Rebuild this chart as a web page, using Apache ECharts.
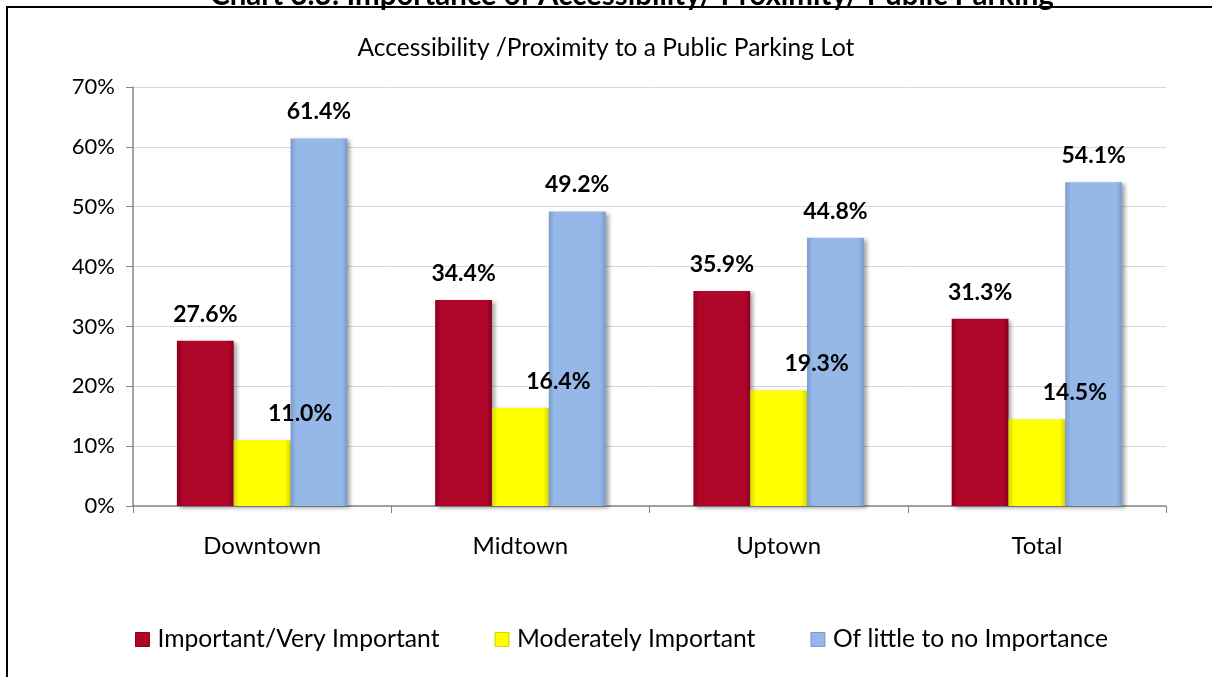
<!DOCTYPE html>
<html><head><meta charset="utf-8">
<script src="https://cdn.jsdelivr.net/npm/echarts@6/dist/echarts.min.js"></script>
<style>html,body{margin:0;padding:0;background:#fff}#c{width:1212px;height:677px}</style>
</head><body><div id="c"></div>
<script>
const categories = ['Downtown', 'Midtown', 'Uptown', 'Total'];
const important = [27.6, 34.4, 35.9, 31.3];
const moderate = [11.0, 16.4, 19.3, 14.5];
const little = [61.4, 49.2, 44.8, 54.1];
const seriesNames = ['Important/Very Important', 'Moderately Important', 'Of little to no Importance'];
const yTicks = [0, 10, 20, 30, 40, 50, 60, 70];
const chartTitle = 'Chart 3.3: Importance of Accessibility/ Proximity/ Public Parking';
const subTitle = 'Accessibility /Proximity to a Public Parking Lot';

const FONT = 'Lato, "Open Sans", sans-serif';
function bevel(mid, edge) {
  return { type: 'linear', x: 0, y: 0, x2: 1, y2: 0, colorStops: [
    { offset: 0, color: edge }, { offset: 0.1, color: mid }, { offset: 0.9, color: mid }, { offset: 1, color: edge }] };
}
const colors = [
  { mid: '#B0062A', edge: '#8A0020' },
  { mid: '#FFFF00', edge: '#D6D600' },
  { mid: '#95B8E8', edge: '#7A9CCB' }
];
function mkSeries(name, data, c, offsetX) {
  return {
    name, type: 'bar', data,
    barCategoryGap: '34%', barGap: '0%',
    itemStyle: { color: bevel(c.mid, c.edge), shadowColor: 'rgba(0,0,0,0.35)', shadowBlur: 4, shadowOffsetX: 3, shadowOffsetY: 2 },
    label: { show: true, position: 'top', distance: 15, offset: [offsetX, 0], formatter: p => p.value.toFixed(1) + '%',
      fontFamily: FONT, fontWeight: 'bold', fontSize: 23, color: '#000' }
  };
}
const chart = echarts.init(document.getElementById('c'));
chart.setOption({
  animation: false,
  textStyle: { fontFamily: FONT },
  grid: { left: 133, right: 46, top: 87, bottom: 171 },
  title: { text: subTitle, left: 'center', top: 31, textStyle: { fontFamily: FONT, fontSize: 24.5, fontWeight: 'normal', color: '#000' } },
  legend: {
    bottom: 20, left: 130, itemWidth: 14, itemHeight: 14, itemGap: 55,
    icon: 'rect', textStyle: { fontFamily: FONT, fontSize: 24.7, color: '#000', padding: [0, 0, 0, 3] },
    data: seriesNames.map((n, i) => ({ name: n, itemStyle: { color: bevel(colors[i].mid, colors[i].edge), borderColor: colors[i].edge, borderWidth: 1 } }))
  },
  xAxis: {
    type: 'category', data: categories,
    axisLine: { lineStyle: { color: '#868686', width: 1.5 } },
    axisTick: { show: true, length: 7, lineStyle: { color: '#868686' } },
    axisLabel: { fontFamily: FONT, fontSize: 24, color: '#000', margin: 28 }
  },
  yAxis: {
    type: 'value', min: 0, max: 70, interval: 10,
    axisLine: { show: true, lineStyle: { color: '#868686', width: 1.5 } },
    axisTick: { show: true, length: 7, lineStyle: { color: '#868686' } },
    splitLine: { lineStyle: { color: '#D9D9D9', width: 1 } },
    axisLabel: { fontFamily: FONT, fontSize: 22, color: '#000', margin: 18,
      formatter: v => yTicks.includes(v) ? v + '%' : '' }
  },
  graphic: [
    { type: 'rect', x: 0, y: 0, shape: { x: 7, y: 7, width: 1300, height: 800 }, style: { fill: 'none', stroke: '#000', lineWidth: 2 }, silent: true, z: -1 },
    { type: 'text', x: 632, y: 10, style: { text: chartTitle, fontFamily: FONT, fontSize: 29.5, fontWeight: 'bold', fill: '#000', align: 'center', verticalAlign: 'bottom', textAlign: 'center', textVerticalAlign: 'bottom' } }
  ],
  series: [
    mkSeries(seriesNames[0], important, colors[0], 0),
    mkSeries(seriesNames[1], moderate, colors[1], 38),
    mkSeries(seriesNames[2], little, colors[2], 0)
  ]
});
</script></body></html>
